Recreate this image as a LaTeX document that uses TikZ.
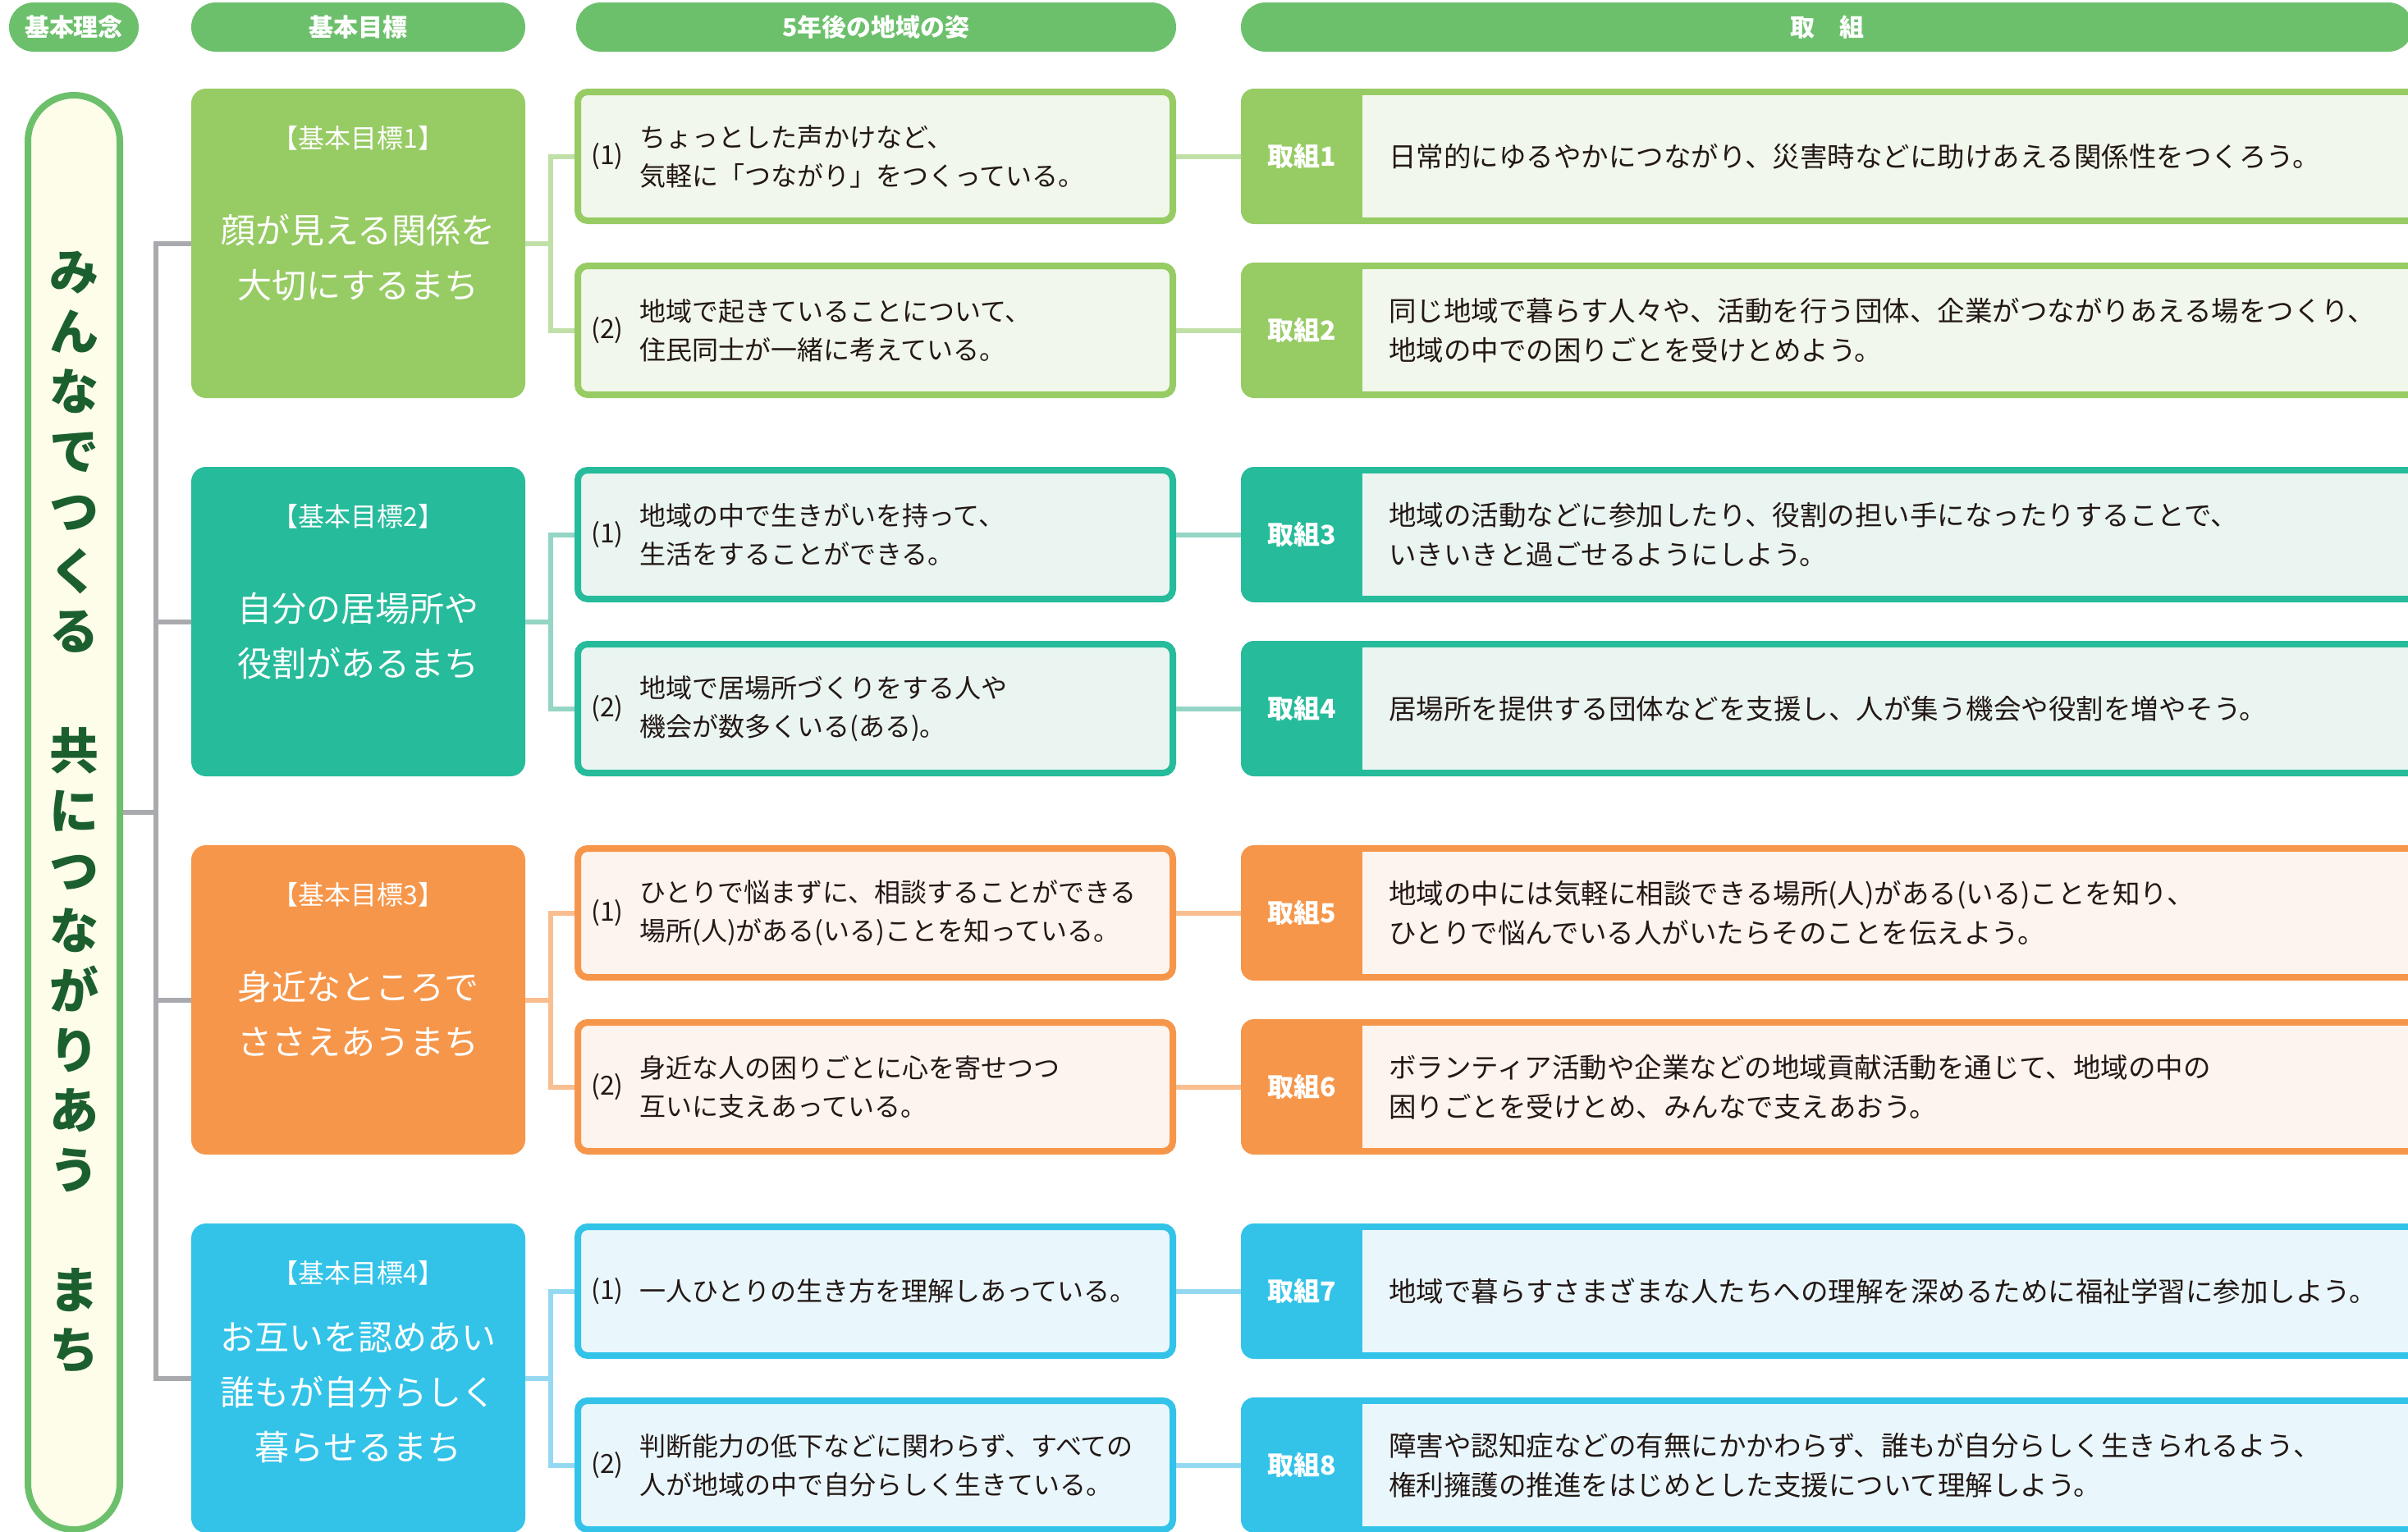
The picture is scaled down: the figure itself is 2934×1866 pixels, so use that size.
\documentclass[tikz,border=0pt]{standalone}
\usepackage{fontspec}
\setmainfont{Noto Sans CJK JP}
\usetikzlibrary{positioning,calc}

\definecolor{hdrgreen}{HTML}{6CC06C}
\definecolor{pillfill}{HTML}{FEFDEA}
\definecolor{pilltext}{HTML}{1C5F2F}
\definecolor{linegray}{HTML}{A9AAAD}
\definecolor{ink}{HTML}{231815}
\definecolor{c1strong}{HTML}{97CB64}
\definecolor{c1light}{HTML}{F1F7EB}
\definecolor{c1link}{HTML}{C0E0A8}
\definecolor{c2strong}{HTML}{26BB9B}
\definecolor{c2light}{HTML}{EAF5F1}
\definecolor{c2link}{HTML}{95D5C5}
\definecolor{c3strong}{HTML}{F6964A}
\definecolor{c3light}{HTML}{FDF4EE}
\definecolor{c3link}{HTML}{F9BE90}
\definecolor{c4strong}{HTML}{33C3E8}
\definecolor{c4light}{HTML}{E9F7FC}
\definecolor{c4link}{HTML}{94D9F1}

\begin{document}
\begin{tikzpicture}[x=1pt, y=-1pt,
    hdr/.style={rectangle, rounded corners=30pt, fill=hdrgreen, minimum height=60pt, inner sep=0pt, text=white, font=\fontsize{30}{36}\selectfont\bfseries},
    goalbox/.style={rectangle, rounded corners=18pt, minimum width=407pt, minimum height=377pt, inner sep=0pt, outer sep=0pt},
    goaltitle/.style={text=white, font=\fontsize{32}{38}\selectfont, inner sep=0pt},
    goaltext/.style={text=white, align=center, font=\fontsize{42}{67}\selectfont, inner sep=0pt},
    itembox/.style={rectangle, rounded corners=12pt, line width=8pt, minimum width=725pt, minimum height=157pt, inner sep=0pt, outer sep=4pt},
    itemno/.style={anchor=west, text=ink, font=\fontsize{32}{38}\selectfont, inner sep=0pt},
    itemtext/.style={anchor=west, align=left, text=ink, font=\fontsize{32}{47}\selectfont, inner sep=0pt},
    actbox/.style={rectangle, rounded corners=16pt, minimum width=1438pt, minimum height=165pt, inner sep=0pt, outer sep=0pt},
    actlabel/.style={text=white, font=\fontsize{32}{38}\selectfont\bfseries, inner sep=0pt},
    acttext/.style={anchor=west, align=left, text=ink, font=\fontsize{33.5}{48}\selectfont, inner sep=0pt},
    trunk/.style={draw=linegray, line width=6pt},
    link/.style={line width=6pt}]
    \useasboundingbox (0,0) rectangle (2934,1866);
    \clip (0,0) rectangle (2934,1866);

    % header row
    \node[hdr, minimum width=158pt] (h1) at (90,33) {基本理念};
    \node[hdr, minimum width=407pt] (h2) at (436.5,33) {基本目標};
    \node[hdr, minimum width=731pt] (h3) at (1067.5,33) {5年後の地域の姿};
    \node[hdr, minimum width=1428pt] (h4) at (2226,33) {取　組};

    % basic idea
    \node[rectangle, rounded corners=56pt, draw=hdrgreen, line width=8pt, fill=pillfill, minimum width=112pt, minimum height=1748pt, inner sep=0pt, outer sep=4pt] (pill) at (90,990) {};
    \node[align=center, text=pilltext, font=\fontsize{60}{73}\selectfont\bfseries, inner sep=0pt] (idea) at (pill.center) {み\\ん\\な\\で\\つ\\く\\る\\　\\共\\に\\つ\\な\\が\\り\\あ\\う\\　\\ま\\ち};

    % basic goals
    \node[goalbox, fill=c1strong] (g1) at (436.5,296.5) {};
    \node[goalbox, fill=c2strong] (g2) at (436.5,757.5) {};
    \node[goalbox, fill=c3strong] (g3) at (436.5,1218.5) {};
    \node[goalbox, fill=c4strong] (g4) at (436.5,1679.5) {};
    \node[goaltitle] (g1t) at ([yshift=-60pt]g1.north) {【基本目標1】};
    \node[goaltitle] (g2t) at ([yshift=-60pt]g2.north) {【基本目標2】};
    \node[goaltitle] (g3t) at ([yshift=-60pt]g3.north) {【基本目標3】};
    \node[goaltitle] (g4t) at ([yshift=-60pt]g4.north) {【基本目標4】};
    \node[goaltext] (g1b) at ([yshift=-206pt]g1.north) {顔が見える関係を\\大切にするまち};
    \node[goaltext] (g2b) at ([yshift=-206pt]g2.north) {自分の居場所や\\役割があるまち};
    \node[goaltext] (g3b) at ([yshift=-206pt]g3.north) {身近なところで\\ささえあうまち};
    \node[goaltext] (g4b) at ([yshift=-206pt]g4.north) {お互いを認めあい\\誰もが自分らしく\\暮らせるまち};

    % trunk
    \coordinate (trunk) at (190,990);
    \draw[trunk] (g1.west) -- (g1.west -| trunk) -- (g4.west -| trunk) -- (g4.west);
    \draw[trunk] (g2.west) -- (g2.west -| trunk);
    \draw[trunk] (g3.west) -- (g3.west -| trunk);
    \draw[trunk] (pill.east) -- (trunk);

    % situation in five years
    \node[itembox, draw=c1strong, fill=c1light] (i11) at (1066.5,190.5) {};
    \node[itembox, draw=c1strong, fill=c1light] (i12) at (1066.5,402.5) {};
    \node[itembox, draw=c2strong, fill=c2light] (i21) at (1066.5,651.5) {};
    \node[itembox, draw=c2strong, fill=c2light] (i22) at (1066.5,863.5) {};
    \node[itembox, draw=c3strong, fill=c3light] (i31) at (1066.5,1112.5) {};
    \node[itembox, draw=c3strong, fill=c3light] (i32) at (1066.5,1324.5) {};
    \node[itembox, draw=c4strong, fill=c4light] (i41) at (1066.5,1573.5) {};
    \node[itembox, draw=c4strong, fill=c4light] (i42) at (1066.5,1785.5) {};

    \node[itemno] (n11) at ([xshift=20pt]i11.west) {(1)};
    \node[itemno] (n12) at ([xshift=20pt]i12.west) {(2)};
    \node[itemno] (n21) at ([xshift=20pt]i21.west) {(1)};
    \node[itemno] (n22) at ([xshift=20pt]i22.west) {(2)};
    \node[itemno] (n31) at ([xshift=20pt]i31.west) {(1)};
    \node[itemno] (n32) at ([xshift=20pt]i32.west) {(2)};
    \node[itemno] (n41) at ([xshift=20pt]i41.west) {(1)};
    \node[itemno] (n42) at ([xshift=20pt]i42.west) {(2)};

    \node[itemtext] (t11) at ([xshift=79pt]i11.west) {ちょっとした声かけなど、\\気軽に「つながり」をつくっている。};
    \node[itemtext] (t12) at ([xshift=79pt]i12.west) {地域で起きていることについて、\\住民同士が一緒に考えている。};
    \node[itemtext] (t21) at ([xshift=79pt]i21.west) {地域の中で生きがいを持って、\\生活をすることができる。};
    \node[itemtext] (t22) at ([xshift=79pt]i22.west) {地域で居場所づくりをする人や\\機会が数多くいる(ある)。};
    \node[itemtext] (t31) at ([xshift=79pt]i31.west) {ひとりで悩まずに、相談することができる\\場所(人)がある(いる)ことを知っている。};
    \node[itemtext] (t32) at ([xshift=79pt]i32.west) {身近な人の困りごとに心を寄せつつ\\互いに支えあっている。};
    \node[itemtext] (t41) at ([xshift=79pt]i41.west) {一人ひとりの生き方を理解しあっている。};
    \node[itemtext] (t42) at ([xshift=79pt]i42.west) {判断能力の低下などに関わらず、すべての\\人が地域の中で自分らしく生きている。};

    \draw[link, c1link] (g1.east) -- ++(31,0) |- (i11.west);
    \draw[link, c1link] (g1.east) -- ++(31,0) |- (i12.west);
    \draw[link, c2link] (g2.east) -- ++(31,0) |- (i21.west);
    \draw[link, c2link] (g2.east) -- ++(31,0) |- (i22.west);
    \draw[link, c3link] (g3.east) -- ++(31,0) |- (i31.west);
    \draw[link, c3link] (g3.east) -- ++(31,0) |- (i32.west);
    \draw[link, c4link] (g4.east) -- ++(31,0) |- (i41.west);
    \draw[link, c4link] (g4.east) -- ++(31,0) |- (i42.west);

    % actions
    \node[actbox, fill=c1strong] (a1) at (2231,190.5) {};
    \node[actbox, fill=c1strong] (a2) at (2231,402.5) {};
    \node[actbox, fill=c2strong] (a3) at (2231,651.5) {};
    \node[actbox, fill=c2strong] (a4) at (2231,863.5) {};
    \node[actbox, fill=c3strong] (a5) at (2231,1112.5) {};
    \node[actbox, fill=c3strong] (a6) at (2231,1324.5) {};
    \node[actbox, fill=c4strong] (a7) at (2231,1573.5) {};
    \node[actbox, fill=c4strong] (a8) at (2231,1785.5) {};
    \fill[c1light] ($(a1.north west)+(148,8)$) rectangle ($(a1.south east)+(-8,-8)$);
    \fill[c1light] ($(a2.north west)+(148,8)$) rectangle ($(a2.south east)+(-8,-8)$);
    \fill[c2light] ($(a3.north west)+(148,8)$) rectangle ($(a3.south east)+(-8,-8)$);
    \fill[c2light] ($(a4.north west)+(148,8)$) rectangle ($(a4.south east)+(-8,-8)$);
    \fill[c3light] ($(a5.north west)+(148,8)$) rectangle ($(a5.south east)+(-8,-8)$);
    \fill[c3light] ($(a6.north west)+(148,8)$) rectangle ($(a6.south east)+(-8,-8)$);
    \fill[c4light] ($(a7.north west)+(148,8)$) rectangle ($(a7.south east)+(-8,-8)$);
    \fill[c4light] ($(a8.north west)+(148,8)$) rectangle ($(a8.south east)+(-8,-8)$);

    \node[actlabel] (l1) at ([xshift=74pt]a1.west) {取組1};
    \node[actlabel] (l2) at ([xshift=74pt]a2.west) {取組2};
    \node[actlabel] (l3) at ([xshift=74pt]a3.west) {取組3};
    \node[actlabel] (l4) at ([xshift=74pt]a4.west) {取組4};
    \node[actlabel] (l5) at ([xshift=74pt]a5.west) {取組5};
    \node[actlabel] (l6) at ([xshift=74pt]a6.west) {取組6};
    \node[actlabel] (l7) at ([xshift=74pt]a7.west) {取組7};
    \node[actlabel] (l8) at ([xshift=74pt]a8.west) {取組8};

    \node[acttext] (x1) at ([xshift=180pt]a1.west) {日常的にゆるやかにつながり、災害時などに助けあえる関係性をつくろう。};
    \node[acttext] (x2) at ([xshift=180pt]a2.west) {同じ地域で暮らす人々や、活動を行う団体、企業がつながりあえる場をつくり、\\地域の中での困りごとを受けとめよう。};
    \node[acttext] (x3) at ([xshift=180pt]a3.west) {地域の活動などに参加したり、役割の担い手になったりすることで、\\いきいきと過ごせるようにしよう。};
    \node[acttext] (x4) at ([xshift=180pt]a4.west) {居場所を提供する団体などを支援し、人が集う機会や役割を増やそう。};
    \node[acttext] (x5) at ([xshift=180pt]a5.west) {地域の中には気軽に相談できる場所(人)がある(いる)ことを知り、\\ひとりで悩んでいる人がいたらそのことを伝えよう。};
    \node[acttext] (x6) at ([xshift=180pt]a6.west) {ボランティア活動や企業などの地域貢献活動を通じて、地域の中の\\困りごとを受けとめ、みんなで支えあおう。};
    \node[acttext] (x7) at ([xshift=180pt]a7.west) {地域で暮らすさまざまな人たちへの理解を深めるために福祉学習に参加しよう。};
    \node[acttext] (x8) at ([xshift=180pt]a8.west) {障害や認知症などの有無にかかわらず、誰もが自分らしく生きられるよう、\\権利擁護の推進をはじめとした支援について理解しよう。};

    \draw[link, c1link] (i11.east) -- (a1.west);
    \draw[link, c1link] (i12.east) -- (a2.west);
    \draw[link, c2link] (i21.east) -- (a3.west);
    \draw[link, c2link] (i22.east) -- (a4.west);
    \draw[link, c3link] (i31.east) -- (a5.west);
    \draw[link, c3link] (i32.east) -- (a6.west);
    \draw[link, c4link] (i41.east) -- (a7.west);
    \draw[link, c4link] (i42.east) -- (a8.west);
\end{tikzpicture}
\end{document}
